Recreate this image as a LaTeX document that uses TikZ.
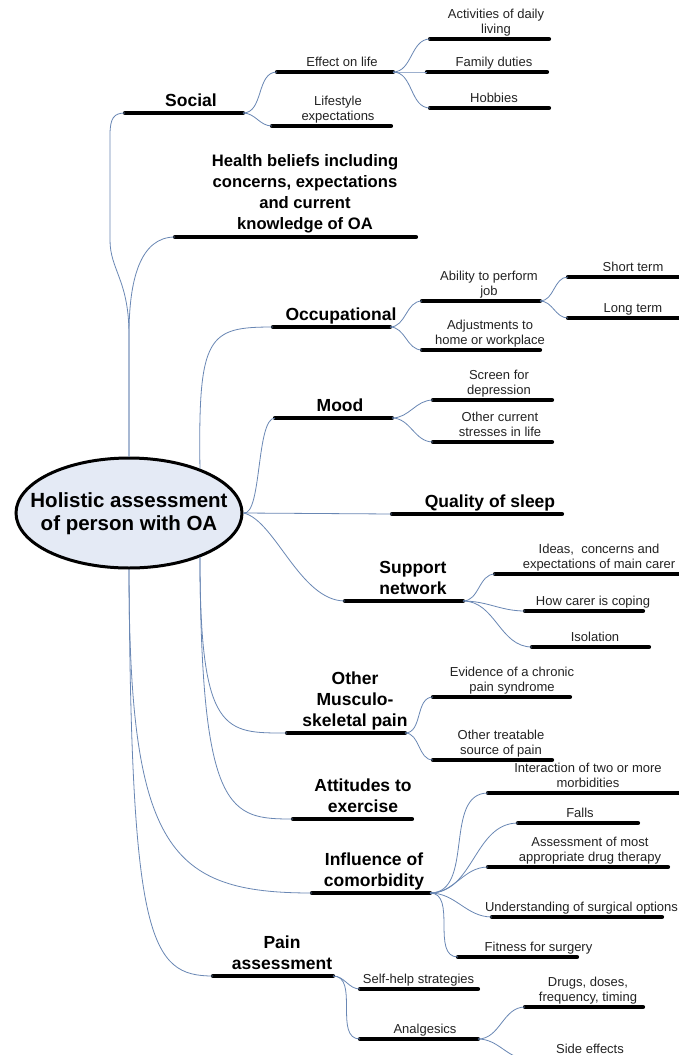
\documentclass[tikz,border=0pt]{standalone}
\usepackage{fontspec}
\setmainfont{Liberation Sans}
\usetikzlibrary{shapes.geometric}
\definecolor{conncol}{RGB}{105,135,180}
\definecolor{ellfill}{RGB}{228,234,245}
\definecolor{smalltxt}{RGB}{35,35,35}
\tikzset{
  barnode/.style={inner sep=0pt, outer sep=0pt, minimum height=0pt, text height=0pt, text depth=0pt},
  bar/.style={line width=4.2pt, line cap=round, black},
  conn/.style={conncol, line width=0.8pt},
  big/.style={font=\fontsize{17.5}{21}\selectfont\bfseries, align=center, anchor=south, inner sep=0pt, execute at end node=\strut},
  hb/.style={big, font=\fontsize{16.6}{21.3}\selectfont\bfseries},
  small/.style={font=\fontsize{13}{15}\selectfont, text=smalltxt, align=center, anchor=south, inner sep=0pt, execute at end node=\strut},
  centre/.style={ellipse, draw=black, line width=3pt, fill=ellfill, minimum width=226pt, minimum height=110pt, inner sep=0pt},
  centretext/.style={font=\fontsize{20.5}{23}\selectfont\bfseries, align=center, inner sep=0pt}
}
\newcommand\br[7]{%
  \node[barnode, minimum width={(#3)-(#2)}] (#1) at ({((#2)+(#3))/2},#4) {};
  \node[#6] (#1t) at (#5,{(#4)-0.5}) {#7};
  \draw[bar] (#1.west) -- (#1.east);}
\begin{document}
\begin{tikzpicture}[x=1pt,y=-1pt]
\useasboundingbox (0,0) rectangle (679,1055);
\clip (0,0) rectangle (679,1055);
\fill[white] (0,0) rectangle (679,1055);

\node[centre] (ell) at (129,513) {};
\node[centretext] (ellt) at (129,514) {Holistic assessment\\of person with OA};

\br{soc}{125}{243}{113}{191}{big}{Social}
\br{eol}{277}{393}{72}{342}{small}{Effect on life}
\br{lse}{272}{391}{126}{338}{small}{Lifestyle\\expectations}
\br{adl}{430}{549}{39}{496}{small}{Activities of daily\\living}
\br{fam}{427}{547}{72}{494}{small}{Family duties}
\br{hob}{430}{549}{108}{494}{small}{Hobbies}
\br{hbl}{175}{416}{237}{305}{hb}{Health beliefs including\\concerns, expectations\\and current\\knowledge of OA}
\br{occ}{273}{390}{327}{341}{big}{Occupational}
\br{abl}{422}{540}{301}{489}{small}{Ability to perform\\job}
\br{adj}{422}{540}{350}{490}{small}{Adjustments to\\home or workplace}
\br{sht}{568}{700}{277}{633}{small}{Short term}
\br{lng}{568}{700}{318}{633}{small}{Long term}
\br{moo}{275}{392}{418}{340}{big}{Mood}
\br{scr}{433}{552}{400}{499}{small}{Screen for\\depression}
\br{str}{433}{552}{442}{500}{small}{Other current\\stresses in life}
\br{slp}{392}{562}{514}{490}{big}{Quality of sleep}
\br{sup}{345}{463}{601}{413}{big}{Support\\network}
\br{ide}{495}{700}{574}{599}{small}{Ideas,\ \ concerns and\\expectations of main carer}
\br{cop}{525}{643}{611}{593}{small}{How carer is coping}
\br{iso}{532}{649}{647}{595}{small}{Isolation}
\br{msk}{287}{405}{733}{355}{big}{Other\\Musculo-\\skeletal pain}
\br{evi}{433}{570}{697}{512}{small}{Evidence of a chronic\\pain syndrome}
\br{trt}{433}{552}{760}{501}{small}{Other treatable\\source of pain}
\br{att}{293}{412}{819}{363}{big}{Attitudes to\\exercise}
\br{inf}{312}{430}{893}{374}{big}{Influence of\\comorbidity}
\br{int}{488}{700}{793}{588}{small}{Interaction of two or more\\morbidities}
\br{fal}{518}{638}{823}{580}{small}{Falls}
\br{drg}{488}{668}{867}{590}{small}{Assessment of most\\appropriate drug therapy}
\br{sur}{492}{662}{917}{581.5}{small}{Understanding of surgical options}
\br{fit}{458}{577}{957}{538.5}{small}{Fitness for surgery}
\br{pai}{213}{333}{976}{282}{big}{Pain\\assessment}
\br{slf}{360}{478}{989}{418.5}{small}{Self-help strategies}
\br{anl}{360}{478}{1039}{425}{small}{Analgesics}
\br{dos}{525}{643}{1007}{588}{small}{Drugs, doses,\\frequency, timing}
\br{sid}{528}{646}{1059}{590}{small}{Side effects}

% main connectors from the central ellipse
\draw[conn] (ell.north) -- (129,335) .. controls (129,280) and (110,270) .. (110,240) -- (110,135) .. controls (110,118) and (114,113) .. (soc.west);
\draw[conn] (ell.north) -- (129,335) .. controls (129,280) and (140,237) .. (hbl.west);
\draw[conn] (ell.32) .. controls (198,335) and (208,327) .. (occ.west);
\draw[conn] (ell.east) .. controls (262,516) and (256,418) .. (moo.west);
\draw[conn] (ell.east) -- (slp.west);
\draw[conn] (ell.east) .. controls (275,520) and (300,601) .. (sup.west);
\draw[conn] (ell.-32) .. controls (200,735) and (225,733) .. (msk.west);
\draw[conn] (ell.-32) .. controls (201,815) and (230,819) .. (att.west);
\draw[conn] (ell.south) .. controls (129,850) and (170,893) .. (inf.west);
\draw[conn] (ell.south) .. controls (131,940) and (150,976) .. (pai.west);

% sub-branch connectors
\foreach \a/\b in {soc/eol, soc/lse, eol/adl, eol/fam, eol/hob, occ/abl, occ/adj, abl/sht, abl/lng, moo/scr, moo/str, sup/ide, sup/cop, sup/iso, msk/evi, msk/trt, inf/int, inf/fal, inf/drg, inf/sur, inf/fit, pai/slf, pai/anl, anl/dos, anl/sid}
  \draw[conn] (\a.east) to[out=0,in=180] (\b.west);
\end{tikzpicture}
\end{document}
